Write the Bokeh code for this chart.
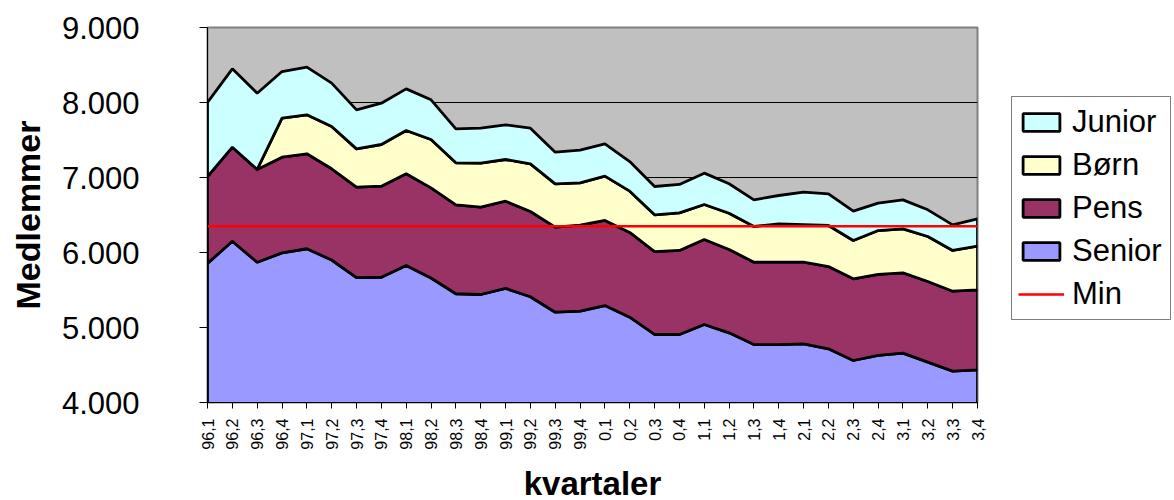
import math
from bokeh.plotting import figure
from bokeh.models import Range1d, FixedTicker, Legend, LegendItem
from bokeh.embed import file_html
from bokeh.resources import INLINE

quarters = ["96,1", "96,2", "96,3", "96,4", "97,1", "97,2", "97,3", "97,4",
            "98,1", "98,2", "98,3", "98,4", "99,1", "99,2", "99,3", "99,4",
            "0,1", "0,2", "0,3", "0,4", "1,1", "1,2", "1,3", "1,4",
            "2,1", "2,2", "2,3", "2,4", "3,1", "3,2", "3,3", "3,4"]

senior = [5855, 6150, 5870, 5995, 6050, 5900, 5665, 5670, 5827, 5660, 5450, 5440,
          5522, 5410, 5204, 5218, 5293, 5137, 4907, 4907, 5040, 4929, 4773, 4773,
          4783, 4716, 4560, 4627, 4658, 4538, 4418, 4436]
pens = [1158, 1254, 1237, 1276, 1266, 1216, 1206, 1214, 1222, 1202, 1186, 1164,
        1162, 1137, 1134, 1147, 1134, 1130, 1106, 1120, 1133, 1111, 1098, 1098,
        1088, 1097, 1089, 1080, 1071, 1075, 1066, 1066]
born = [0, 0, 0, 520, 520, 564, 511, 556, 578, 645, 560, 587,
        556, 635, 578, 564, 591, 551, 489, 502, 467, 484, 476, 511,
        502, 547, 511, 586, 587, 600, 543, 582]
junior = [987, 1045, 1017, 622, 635, 578, 520, 551, 555, 529, 453, 467,
          462, 476, 422, 436, 431, 395, 378, 378, 418, 392, 355, 378,
          431, 422, 391, 365, 386, 356, 342, 365]
min_level = 6350

y_ticks = [4000, 5000, 6000, 7000, 8000, 9000]
y_tick_labels = ["4.000", "5.000", "6.000", "7.000", "8.000", "9.000"]

series_names = ["Senior", "Pens", "Børn", "Junior"]
series_values = [senior, pens, born, junior]
series_colors = ["#9999FF", "#993366", "#FFFFCC", "#CCFFFF"]

FONT = "Liberation Sans"

p = figure(frame_width=770, frame_height=375, output_backend="svg", toolbar_location=None,
           x_range=Range1d(0, len(quarters) - 1), y_range=Range1d(4000, 9000),
           min_border_left=207, min_border_right=197, min_border_top=27, min_border_bottom=98)
p.background_fill_color = "#C0C0C0"
p.border_fill_color = "white"
p.outline_line_color = "#808080"
p.outline_line_width = 2

xs = list(range(len(quarters)))
bottom = [0] * len(quarters)
renderers = {}
for name, vals, col in zip(series_names, series_values, series_colors):
    top = [b + v for b, v in zip(bottom, vals)]
    px = xs + xs[::-1]
    py = top + bottom[::-1]
    r = p.patch(px, py, fill_color=col, line_color="black", line_width=2.8)
    renderers[name] = r
    bottom = top

r_min = p.line(xs, [min_level] * len(xs), line_color="#FF0000", line_width=2.5)

# axes
p.xgrid.visible = False
p.ygrid.grid_line_color = "black"
p.ygrid.grid_line_width = 1
p.ygrid.ticker = FixedTicker(ticks=y_ticks)

p.yaxis.ticker = FixedTicker(ticks=y_ticks)
p.yaxis.major_label_overrides = {t: l for t, l in zip(y_ticks, y_tick_labels)}
p.yaxis.major_label_text_font = FONT
p.yaxis.major_label_text_font_size = "31px"
p.yaxis.major_label_text_color = "black"
p.yaxis.major_label_standoff = 60
p.yaxis.major_tick_out = 8
p.yaxis.major_tick_in = 0
p.yaxis.minor_tick_line_color = None
p.yaxis.axis_line_color = "black"
p.yaxis.axis_label = "Medlemmer"
p.yaxis.axis_label_text_font = FONT
p.yaxis.axis_label_text_font_style = "bold"
p.yaxis.axis_label_text_font_size = "34px"
p.yaxis.axis_label_text_color = "black"
p.yaxis.axis_label_standoff = 12

p.xaxis.ticker = FixedTicker(ticks=xs)
p.xaxis.major_label_overrides = {i: q for i, q in enumerate(quarters)}
p.xaxis.major_label_orientation = math.pi / 2
p.xaxis.major_label_text_font = FONT
p.xaxis.major_label_text_font_size = "16px"
p.xaxis.major_label_text_color = "black"
p.xaxis.major_label_standoff = 10
p.xaxis.major_tick_out = 6
p.xaxis.major_tick_in = 0
p.xaxis.minor_tick_line_color = None
p.xaxis.axis_line_color = "black"
p.xaxis.axis_label = "kvartaler"
p.xaxis.axis_label_text_font = FONT
p.xaxis.axis_label_text_font_style = "bold"
p.xaxis.axis_label_text_font_size = "33px"
p.xaxis.axis_label_text_color = "black"
p.xaxis.axis_label_standoff = 12

items = [LegendItem(label=n, renderers=[renderers[n]]) for n in ["Junior", "Børn", "Pens", "Senior"]]
items.append(LegendItem(label="Min", renderers=[r_min]))
legend = Legend(items=items, location=(34, 82))
legend.label_text_font = FONT
legend.label_text_font_size = "31px"
legend.label_text_color = "black"
legend.glyph_width = 46
legend.glyph_height = 22
legend.label_standoff = 8
legend.label_height = 38
legend.label_width = 92
legend.spacing = 5
legend.padding = 6
legend.margin = 0
legend.border_line_color = "black"
legend.border_line_width = 1
legend.background_fill_color = "white"
legend.background_fill_alpha = 1
p.add_layout(legend, "right")

open("out.html", "w").write(file_html(p, INLINE))
